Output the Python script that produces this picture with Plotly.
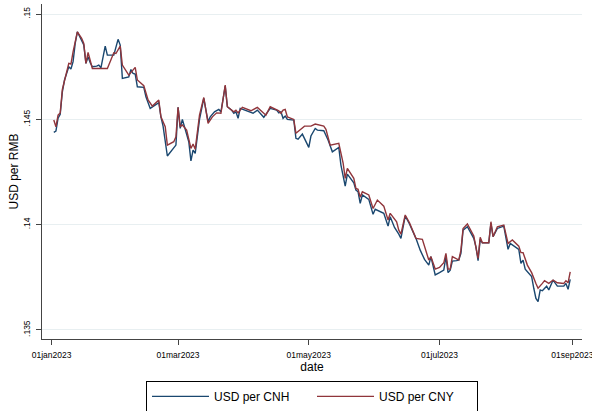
import plotly.graph_objects as go

# USD per offshore yuan (CNH)
cnh_dates = [
    "2023-01-02", "2023-01-03", "2023-01-04", "2023-01-05", "2023-01-06", "2023-01-07",
    "2023-01-09", "2023-01-10", "2023-01-11", "2023-01-12", "2023-01-13", "2023-01-15",
    "2023-01-16", "2023-01-17", "2023-01-18", "2023-01-19", "2023-01-20", "2023-01-22",
    "2023-01-23", "2023-01-24", "2023-01-26", "2023-01-27", "2023-01-30", "2023-02-01",
    "2023-02-02", "2023-02-03", "2023-02-06", "2023-02-07", "2023-02-08", "2023-02-09",
    "2023-02-10", "2023-02-13", "2023-02-14", "2023-02-16", "2023-02-18", "2023-02-20",
    "2023-02-21", "2023-02-22", "2023-02-24", "2023-02-28", "2023-03-01", "2023-03-02",
    "2023-03-03", "2023-03-05", "2023-03-06", "2023-03-07", "2023-03-08", "2023-03-09",
    "2023-03-11", "2023-03-13", "2023-03-15", "2023-03-16", "2023-03-18", "2023-03-20",
    "2023-03-21", "2023-03-23", "2023-03-24", "2023-03-26", "2023-03-27", "2023-03-28",
    "2023-03-29", "2023-03-30", "2023-04-02", "2023-04-05", "2023-04-07", "2023-04-10",
    "2023-04-13", "2023-04-16", "2023-04-17", "2023-04-18", "2023-04-19", "2023-04-20",
    "2023-04-21", "2023-04-24", "2023-04-25", "2023-04-26", "2023-04-28", "2023-05-01",
    "2023-05-02", "2023-05-04", "2023-05-05", "2023-05-08", "2023-05-10", "2023-05-12",
    "2023-05-15", "2023-05-16", "2023-05-18", "2023-05-19", "2023-05-22", "2023-05-23",
    "2023-05-24", "2023-05-25", "2023-05-26", "2023-05-29", "2023-05-31", "2023-06-01",
    "2023-06-05", "2023-06-07", "2023-06-08", "2023-06-10", "2023-06-12", "2023-06-13",
    "2023-06-15", "2023-06-17", "2023-06-20", "2023-06-22", "2023-06-24", "2023-06-26",
    "2023-06-27", "2023-06-29", "2023-07-01", "2023-07-03", "2023-07-04", "2023-07-05",
    "2023-07-06", "2023-07-07", "2023-07-09", "2023-07-10", "2023-07-11", "2023-07-12",
    "2023-07-14", "2023-07-17", "2023-07-18", "2023-07-19", "2023-07-20", "2023-07-21",
    "2023-07-24", "2023-07-25", "2023-07-26", "2023-07-28", "2023-07-31", "2023-08-01",
    "2023-08-02", "2023-08-03", "2023-08-07", "2023-08-08", "2023-08-09", "2023-08-10",
    "2023-08-11", "2023-08-13", "2023-08-14", "2023-08-15", "2023-08-16", "2023-08-17",
    "2023-08-18", "2023-08-20", "2023-08-21", "2023-08-23", "2023-08-25", "2023-08-28",
    "2023-08-29", "2023-08-30", "2023-08-31",
]
cnh = [
    .14438, .14444, .14506, .14524, .14631, .14687,
    .14750, .14739, .14774, .14861, .14916, .14877,
    .14853, .14766, .14797, .14769, .14750, .14753,
    .14758, .14745, .14848, .14805, .14805, .14880,
    .14853, .14695, .14702, .14737, .14718, .14715,
    .14655, .14652, .14607, .14552, .14565, .14579,
    .14512, .14468, .14326, .14378, .14557, .14457,
    .14500, .14434, .14394, .14303, .14354, .14339,
    .14500, .14600, .14489, .14512, .14536, .14547,
    .14536, .14658, .14560, .14544, .14529, .14536,
    .14505, .14552, .14541, .14529, .14544, .14510,
    .14552, .14544, .14531, .14536, .14505, .14516,
    .14500, .14497, .14410, .14406, .14430, .14367,
    .14421, .14457, .14449, .14446, .14402, .14346,
    .14367, .14283, .14183, .14240, .14199, .14164,
    .14156, .14101, .14141, .14120, .14049, .14073,
    .14054, .13993, .14038, .13987, .13955, .13935,
    .14041, .14003, .13935, .13879, .13835, .13808,
    .13848, .13761, .13772, .13784, .13848, .13772,
    .13784, .13827, .13829, .13832, .13864, .13974,
    .13990, .13935, .13895, .13829, .13930, .13914,
    .13914, .14006, .13943, .13982, .13993, .13935,
    .13883, .13911, .13883, .13816, .13832, .13789,
    .13776, .13753, .13698, .13650, .13634, .13690,
    .13686, .13708, .13690, .13737, .13708, .13708,
    .13721, .13693, .13740,
]

# USD per onshore yuan (CNY)
cny_dates = [
    "2023-01-02", "2023-01-03", "2023-01-04", "2023-01-05", "2023-01-06", "2023-01-07",
    "2023-01-09", "2023-01-10", "2023-01-11", "2023-01-13", "2023-01-15", "2023-01-16",
    "2023-01-17", "2023-01-18", "2023-01-19", "2023-01-20", "2023-01-27", "2023-01-30",
    "2023-01-31", "2023-02-02", "2023-02-03", "2023-02-06", "2023-02-09", "2023-02-10",
    "2023-02-13", "2023-02-15", "2023-02-17", "2023-02-20", "2023-02-21", "2023-02-23",
    "2023-02-24", "2023-02-27", "2023-02-28", "2023-03-01", "2023-03-02", "2023-03-03",
    "2023-03-05", "2023-03-07", "2023-03-08", "2023-03-09", "2023-03-11", "2023-03-13",
    "2023-03-15", "2023-03-17", "2023-03-19", "2023-03-21", "2023-03-23", "2023-03-24",
    "2023-03-27", "2023-03-28", "2023-03-29", "2023-03-31", "2023-04-04", "2023-04-07",
    "2023-04-11", "2023-04-13", "2023-04-17", "2023-04-18", "2023-04-19", "2023-04-20",
    "2023-04-21", "2023-04-24", "2023-04-25", "2023-04-28", "2023-04-29", "2023-05-02",
    "2023-05-04", "2023-05-08", "2023-05-09", "2023-05-11", "2023-05-15", "2023-05-17",
    "2023-05-18", "2023-05-19", "2023-05-22", "2023-05-23", "2023-05-24", "2023-05-25",
    "2023-05-26", "2023-05-29", "2023-05-31", "2023-06-02", "2023-06-05", "2023-06-07",
    "2023-06-08", "2023-06-11", "2023-06-12", "2023-06-13", "2023-06-15", "2023-06-17",
    "2023-06-20", "2023-06-23", "2023-06-26", "2023-06-27", "2023-06-29", "2023-07-01",
    "2023-07-02", "2023-07-03", "2023-07-04", "2023-07-05", "2023-07-06", "2023-07-07",
    "2023-07-10", "2023-07-11", "2023-07-12", "2023-07-14", "2023-07-17", "2023-07-19",
    "2023-07-20", "2023-07-21", "2023-07-24", "2023-07-25", "2023-07-26", "2023-07-28",
    "2023-07-31", "2023-08-01", "2023-08-02", "2023-08-04", "2023-08-07", "2023-08-08",
    "2023-08-09", "2023-08-11", "2023-08-13", "2023-08-15", "2023-08-16", "2023-08-18",
    "2023-08-19", "2023-08-21", "2023-08-23", "2023-08-25", "2023-08-28", "2023-08-29",
    "2023-08-30", "2023-08-31",
]
cny = [
    .14497, .14465, .14520, .14531, .14642, .14687,
    .14766, .14763, .14821, .14916, .14885, .14861,
    .14766, .14818, .14774, .14742, .14742, .14816,
    .14813, .14848, .14758, .14710, .14747, .14687,
    .14660, .14592, .14563, .14592, .14512, .14465,
    .14378, .14394, .14417, .14557, .14465, .14473,
    .14449, .14362, .14383, .14358, .14520, .14604,
    .14481, .14512, .14531, .14529, .14663, .14560,
    .14536, .14544, .14531, .14557, .14541, .14557,
    .14520, .14560, .14541, .14529, .14544, .14547,
    .14512, .14500, .14434, .14457, .14468, .14468,
    .14478, .14468, .14453, .14378, .14386, .14294,
    .14220, .14267, .14220, .14172, .14168, .14130,
    .14156, .14141, .14077, .14117, .14088, .14022,
    .14054, .14014, .13974, .13955, .14046, .14009,
    .13935, .13930, .13832, .13848, .13789, .13797,
    .13808, .13819, .13864, .13789, .13789, .13848,
    .13832, .13879, .13982, .14003, .13946, .13840,
    .13940, .13914, .13914, .14014, .13943, .13990,
    .13998, .13959, .13911, .13927, .13898, .13867,
    .13867, .13808, .13772, .13721, .13698, .13721,
    .13734, .13721, .13737, .13724, .13721, .13734,
    .13724, .13776,
]

x_ticks = ["2023-01-01", "2023-03-01", "2023-05-01", "2023-07-01", "2023-09-01"]
x_labels = ["01jan2023", "01mar2023", "01may2023", "01jul2023", "01sep2023"]
y_ticks = [.135, .14, .145, .15]
y_labels = [".135", ".14", ".145", ".15"]

font = "Liberation Sans, Arial, sans-serif"

fig = go.Figure()
fig.add_trace(go.Scatter(x=cnh_dates, y=cnh, mode="lines", name="USD per CNH",
                         line=dict(color="#1a476f", width=1.4)))
fig.add_trace(go.Scatter(x=cny_dates, y=cny, mode="lines", name="USD per CNY",
                         line=dict(color="#90353b", width=1.4)))

fig.update_layout(
    width=592, height=411,
    margin=dict(l=42, r=10, t=4, b=72, autoexpand=False),
    paper_bgcolor="white", plot_bgcolor="white",
    font=dict(family=font, color="black"),
    showlegend=True,
    legend=dict(
        orientation="h", x=0.5, xanchor="center", y=-0.125, yanchor="top",
        bordercolor="black", borderwidth=1, font=dict(size=12),
        entrywidth=93, itemwidth=57,
    ),
)
fig.update_xaxes(
    type="date", range=["2022-12-27 12:00", "2023-09-05 12:00"],
    tickvals=x_ticks, ticktext=x_labels, tickfont=dict(size=8.5),
    ticks="outside", ticklen=5, tickcolor="#444", ticklabelstandoff=3,
    ticklabeloverflow="allow",
    showline=True, linecolor="#444", linewidth=1,
    showgrid=False, zeroline=False, automargin=False,
    title=dict(text="date", font=dict(size=12), standoff=0),
)
fig.update_yaxes(
    range=[0.13457, 0.15048],
    tickvals=y_ticks, ticktext=y_labels, tickangle=-90, tickfont=dict(size=8.5),
    ticks="outside", ticklen=5, tickcolor="#444", ticklabelstandoff=3,
    showline=True, linecolor="#444", linewidth=1,
    showgrid=True, gridcolor="#e8eff1", gridwidth=1, zeroline=False,
    automargin=False,
    title=dict(text="USD per RMB", font=dict(size=12), standoff=0),
)

# the page body has a default 8px margin; drop it so the figure sits at the corner
fig.write_html("out.html", config={"displayModeBar": False},
               post_script="document.body.style.margin = '0';")
